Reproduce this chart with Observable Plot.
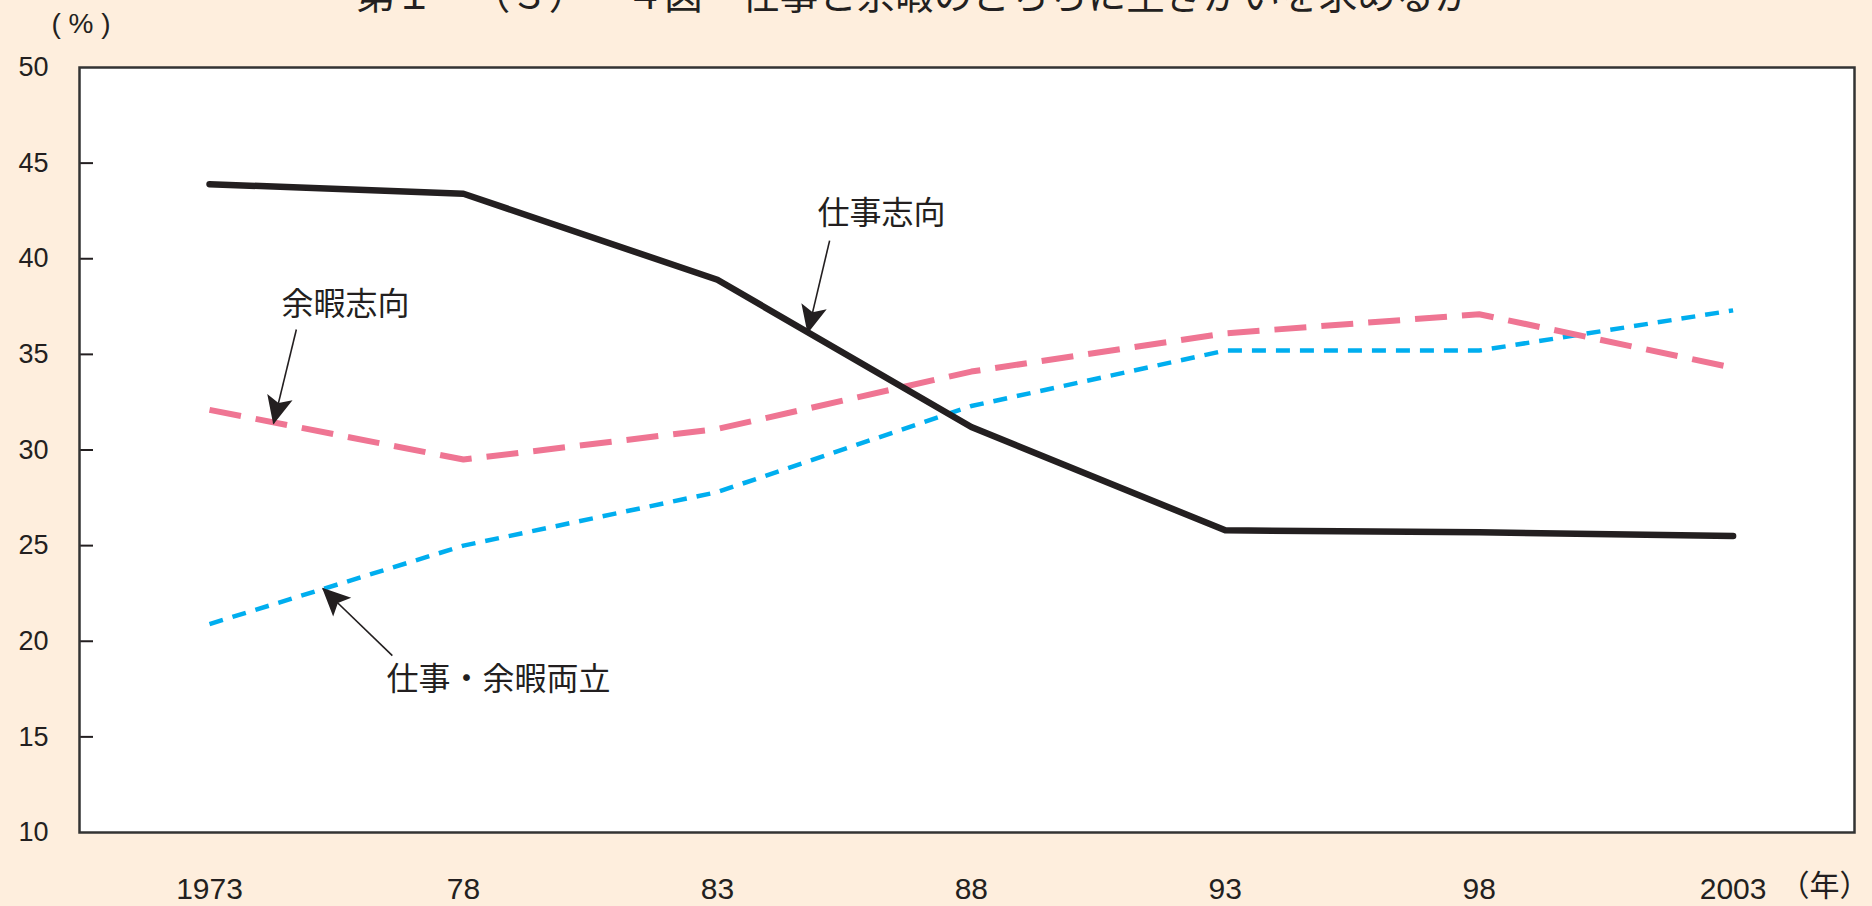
<!DOCTYPE html>
<html>
<head>
<meta charset="utf-8">
<script src="https://cdn.jsdelivr.net/npm/d3@7"></script>
<script src="https://cdn.jsdelivr.net/npm/@observablehq/plot@0.6"></script>
<style>
  html, body { margin: 0; padding: 0; background: #feeedd; overflow: hidden; }
  #chart { width: 1872px; height: 906px; }
</style>
</head>
<body>
<div id="chart"></div>
<script>
// ---- data ----
const years = [1973, 1978, 1983, 1988, 1993, 1998, 2003];
const yearLabels = ["1973", "78", "83", "88", "93", "98", "2003"];
const workOriented = [43.9, 43.4, 38.9, 31.2, 25.8, 25.7, 25.5];     // 仕事志向
const leisureOriented = [32.1, 29.5, 31.1, 34.1, 36.1, 37.1, 34.3];  // 余暇志向
const balanced = [20.9, 25.0, 27.8, 32.3, 35.2, 35.2, 37.3];         // 仕事・余暇両立
const yTicks = [10, 15, 20, 25, 30, 35, 40, 45, 50];
const yInnerTicks = [15, 20, 25, 30, 35, 40, 45];

const noteLabels = ["仕事志向", "余暇志向", "仕事・余暇両立"];
const noteX = [1986.23, 1975.68, 1978.69];
const noteY = [42.37, 37.61, 18.0];
const arrowFromX = [1985.21, 1974.71, 1976.60];
const arrowFromY = [40.95, 36.30, 19.25];
const arrowToX = [1984.78, 1974.26, 1975.23];
const arrowToY = [36.14, 31.39, 22.76];

const titleText = "第１－（３）－４図　仕事と余暇のどちらに生きがいを求めるか";
const yUnit = "( % )";
const xUnit = "（年）";

// ---- build tables ----
const seriesDefs = [
  {name: "仕事志向", values: workOriented},
  {name: "余暇志向", values: leisureOriented},
  {name: "仕事・余暇両立", values: balanced}
];
const rows = seriesDefs.flatMap(s => years.map((yr, i) => ({series: s.name, year: yr, value: s.values[i]})));
const notes = noteLabels.map((t, i) => ({t, x: noteX[i], y: noteY[i]}));
const arrows = noteLabels.map((t, i) => ({x1: arrowFromX[i], y1: arrowFromY[i], x2: arrowToX[i], y2: arrowToY[i]}));

const CJK = "'Noto Sans CJK JP', 'Noto Sans', sans-serif";
const INK = "#231f20";

function headMarker(color, context) {
  const ns = "http://www.w3.org/2000/svg";
  const doc = (context && context.document) || document;
  const m = doc.createElementNS(ns, "marker");
  m.setAttribute("viewBox", "-30 -15 32 30");
  m.setAttribute("markerWidth", 32);
  m.setAttribute("markerHeight", 30);
  m.setAttribute("markerUnits", "userSpaceOnUse");
  m.setAttribute("orient", "auto");
  m.setAttribute("refX", 0);
  m.setAttribute("refY", 0);
  const p = doc.createElementNS(ns, "path");
  p.setAttribute("d", "M1,0L-27,-13L-21,0L-27,13Z");
  p.setAttribute("fill", INK);
  p.setAttribute("stroke", "none");
  m.appendChild(p);
  return m;
}

function build(marker) {
  return Plot.plot({
    width: 1872,
    height: 906,
    marginLeft: 79,
    marginRight: 18,
    marginTop: 67,
    marginBottom: 74,
    style: {background: "transparent", fontFamily: "'Liberation Sans', Arial, sans-serif", color: INK, overflow: "visible"},
    x: {domain: [1970.44, 2005.39], axis: null},
    y: {domain: [10, 50], axis: null},
    marks: [
      Plot.frame({fill: "white", stroke: "none"}),
      Plot.axisY({ticks: yTicks, tickSize: 0, tickPadding: 31, fontSize: 27, color: INK}),
      Plot.axisY({ticks: yInnerTicks, tickSize: -14, tickFormat: () => "", stroke: INK, strokeWidth: 2}),
      Plot.axisX({ticks: years, tickSize: 0, tickPadding: 45, fontSize: 30, color: INK,
        tickFormat: d => yearLabels[years.indexOf(d)]}),
      Plot.line(rows.filter(d => d.series === "仕事・余暇両立"), {x: "year", y: "value", stroke: "#00aeef", strokeWidth: 4.5,
        strokeDasharray: "14 10", curve: "linear", strokeLinecap: "butt", strokeLinejoin: "round"}),
      Plot.line(rows.filter(d => d.series === "余暇志向"), {x: "year", y: "value", stroke: "#ef7593", strokeWidth: 6,
        strokeDasharray: "32 15", curve: "linear", strokeLinecap: "butt", strokeLinejoin: "round"}),
      Plot.line(rows.filter(d => d.series === "仕事志向"), {x: "year", y: "value", stroke: INK, strokeWidth: 6.5,
        curve: "linear", strokeLinecap: "round", strokeLinejoin: "round"}),
      Plot.link(arrows, {x1: "x1", y1: "y1", x2: "x2", y2: "y2", stroke: INK, strokeWidth: 1.6, markerEnd: marker}),
      Plot.text(notes, {x: "x", y: "y", text: "t", fontSize: 32, fontFamily: CJK, fill: INK, textAnchor: "middle", lineAnchor: "middle"}),
      Plot.text([titleText], {frameAnchor: "top", dx: -52.5, dy: -70.8, fontSize: 38.5, fontFamily: CJK, fill: INK,
        textAnchor: "middle", lineAnchor: "middle"}),
      Plot.text([yUnit], {frameAnchor: "top-left", dx: -28, dy: -43.7, fontSize: 28, fill: INK,
        textAnchor: "start", lineAnchor: "middle"}),
      Plot.text([xUnit], {frameAnchor: "bottom-right", dx: -30, dy: 54, fontSize: 30, fontFamily: CJK, fill: INK,
        textAnchor: "middle", lineAnchor: "middle"}),
      Plot.frame({stroke: "#333333", strokeWidth: 2.5, fill: "none"})
    ]
  });
}

let chart;
try {
  chart = build(headMarker);
} catch (e) {
  chart = build("arrow");
}
document.getElementById("chart").appendChild(chart);
</script>
</body>
</html>
